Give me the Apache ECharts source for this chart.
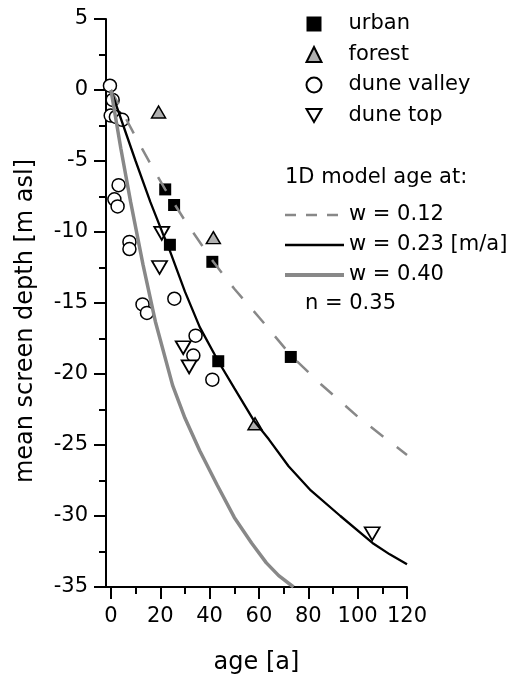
<!DOCTYPE html>
<html><head><meta charset="utf-8">
<script src="https://cdn.jsdelivr.net/npm/echarts@6/dist/echarts.min.js"></script>
<style>html,body{margin:0;padding:0;background:#fff}#c{width:506px;height:675px}</style>
</head><body><div id="c"></div>
<script>
// observed wells: [age (a), mean screen depth (m asl)]
const urban = [[22.0,-7.0],[25.6,-8.1],[23.9,-10.9],[41.1,-12.1],[43.5,-19.1],[72.9,-18.8]];
const forest = [[19.3,-1.55],[41.5,-10.4],[58.4,-23.5]];
const duneValley = [[-0.4,0.3],[0.7,-0.7],[-0.1,-1.8],[2.0,-1.9],[4.6,-2.1],[3.1,-6.7],[1.4,-7.7],[2.7,-8.2],[7.5,-10.7],[7.5,-11.2],[12.8,-15.1],[14.6,-15.7],[25.7,-14.7],[34.3,-17.3],[33.4,-18.7],[41.1,-20.4]];
const duneTop = [[20.6,-10.1],[19.7,-12.5],[29.3,-18.15],[31.7,-19.5],[105.9,-31.25]];
// 1D model curves
const modelW012 = [[0,0],[3,-1.0],[10,-3.3],[17,-5.5],[22,-7.0],[30,-9.2],[41.5,-12.1],[50,-14.0],[60,-16.0],[73,-18.7],[85,-20.7],[100,-23.0],[111,-24.5],[120,-25.7]];
const modelW023 = [[0,0],[5,-2.5],[10,-5.0],[16,-7.9],[21,-10.1],[23,-10.9],[30,-14.2],[36,-16.7],[43.5,-19.1],[50,-21.0],[58,-23.3],[64,-24.6],[72,-26.5],[81,-28.2],[93,-30.0],[106,-31.9],[113,-32.7],[120,-33.4]];
const modelW040 = [[0,0],[4,-4.1],[8,-7.9],[13,-12.3],[18,-16.3],[25,-20.8],[30,-23.1],[36,-25.4],[43,-27.8],[50,-30.1],[57,-31.9],[63,-33.3],[68,-34.2],[74,-35.0]];
// axis ticks
const xMajorTicks = [0,20,40,60,80,100,120];
const xMinorTicks = [10,30,50,70,90,110];
const scatterNames = ['urban','forest','dune valley','dune top'];
const lineNames = ['w = 0.12','w = 0.23 [m/a]','w = 0.40'];

const FONT = 'DejaVu Sans';
const txt = {fontFamily: FONT, fontSize: 21, color: '#000'};
const chart = echarts.init(document.getElementById('c'), null, {renderer: 'canvas'});
chart.setOption({
  animation: false,
  backgroundColor: '#fff',
  grid: {left: 106, right: 99, top: 19, bottom: 88, containLabel: false, outerBoundsMode: 'none'},
  xAxis: [{
    type: 'value', min: -2, max: 120, position: 'bottom',
    axisLine: {show: true, onZero: false, lineStyle: {color: '#000', width: 2}},
    axisTick: {show: true, length: 12, customValues: xMajorTicks, lineStyle: {color: '#000', width: 2}},
    axisLabel: Object.assign({customValues: xMajorTicks, margin: 19}, txt),
    splitLine: {show: false},
    name: 'age [a]', nameLocation: 'middle', nameGap: 64,
    nameTextStyle: {fontFamily: FONT, fontSize: 24, color: '#000'}
  }, {
    type: 'value', min: -2, max: 120, position: 'bottom',
    axisLine: {show: false, onZero: false},
    axisTick: {show: true, length: 7, customValues: xMinorTicks, lineStyle: {color: '#000', width: 2}},
    axisLabel: {show: false}, splitLine: {show: false}
  }],
  yAxis: {
    type: 'value', min: -35, max: 5, interval: 5,
    axisLine: {show: true, onZero: false, lineStyle: {color: '#000', width: 2}},
    axisTick: {show: true, length: 12, lineStyle: {color: '#000', width: 2}},
    minorTick: {show: true, splitNumber: 2, length: 7, lineStyle: {color: '#000', width: 2}},
    axisLabel: Object.assign({margin: 18}, txt),
    splitLine: {show: false},
    name: 'mean screen depth [m asl]', nameLocation: 'middle', nameGap: 68,
    nameTextStyle: {fontFamily: FONT, fontSize: 24, color: '#000', padding: [0, 36, 0, 0]}
  },
  legend: [{
    data: [
      {name: scatterNames[0]},
      {name: scatterNames[1]},
      {name: scatterNames[2]},
      {name: scatterNames[3], icon: 'path://M0,0 L16,0 L8,14 Z'}
    ],
    orient: 'vertical', left: 305.5, top: 13, padding: 0,
    itemWidth: 15, itemHeight: 15, itemGap: 8.5,
    selectedMode: false, textStyle: Object.assign({lineHeight: 22, padding: [0, 0, 0, 22]}, txt)
  }, {
    data: [
      {name: lineNames[0], lineStyle: {type: [11, 10], width: 2.5}},
      {name: lineNames[1], lineStyle: {width: 2.6}},
      {name: lineNames[2], lineStyle: {width: 4}}
    ],
    orient: 'vertical', left: 283, top: 204, padding: 0,
    itemWidth: 59, itemHeight: 14, itemGap: 8,
    itemStyle: {opacity: 0, borderWidth: 0},
    selectedMode: false, textStyle: Object.assign({lineHeight: 22}, txt)
  }],
  graphic: [
    {type: 'text', left: 285, top: 167, style: {text: '1D model age at:', font: '21px "DejaVu Sans"', fill: '#000'}},
    {type: 'text', left: 305, top: 293, style: {text: 'n = 0.35', font: '21px "DejaVu Sans"', fill: '#000'}}
  ],
  series: [
    {name: 'urban', type: 'scatter', data: urban, symbol: 'rect', symbolSize: 12, itemStyle: {color: '#000', opacity: 1}, z: 2},
    {name: 'forest', type: 'scatter', data: forest, symbol: 'triangle', symbolSize: [14, 12], itemStyle: {color: '#b0b0b0', borderColor: '#000', borderWidth: 1.5, opacity: 1}, z: 2},
    {name: 'dune valley', type: 'scatter', data: duneValley, symbol: 'circle', symbolSize: 13, itemStyle: {color: '#fff', borderColor: '#000', borderWidth: 1.5, opacity: 1}, z: 2},
    {name: 'dune top', type: 'scatter', data: duneTop, symbol: 'triangle', symbolRotate: 180, symbolSize: [15, 13], itemStyle: {color: '#fff', borderColor: '#000', borderWidth: 1.8, opacity: 1}, z: 2},
    {name: 'w = 0.12', type: 'line', data: modelW012, symbol: 'none', showSymbol: false, z: 3,
     itemStyle: {color: '#888'}, lineStyle: {color: '#888', width: 2.5, type: [16, 17]}},
    {name: 'w = 0.23 [m/a]', type: 'line', data: modelW023, symbol: 'none', showSymbol: false, z: 3,
     itemStyle: {color: '#000'}, lineStyle: {color: '#000', width: 2.3}},
    {name: 'w = 0.40', type: 'line', data: modelW040, symbol: 'none', showSymbol: false, z: 3,
     itemStyle: {color: '#888'}, lineStyle: {color: '#888', width: 3.5}}
  ]
});
</script></body></html>
